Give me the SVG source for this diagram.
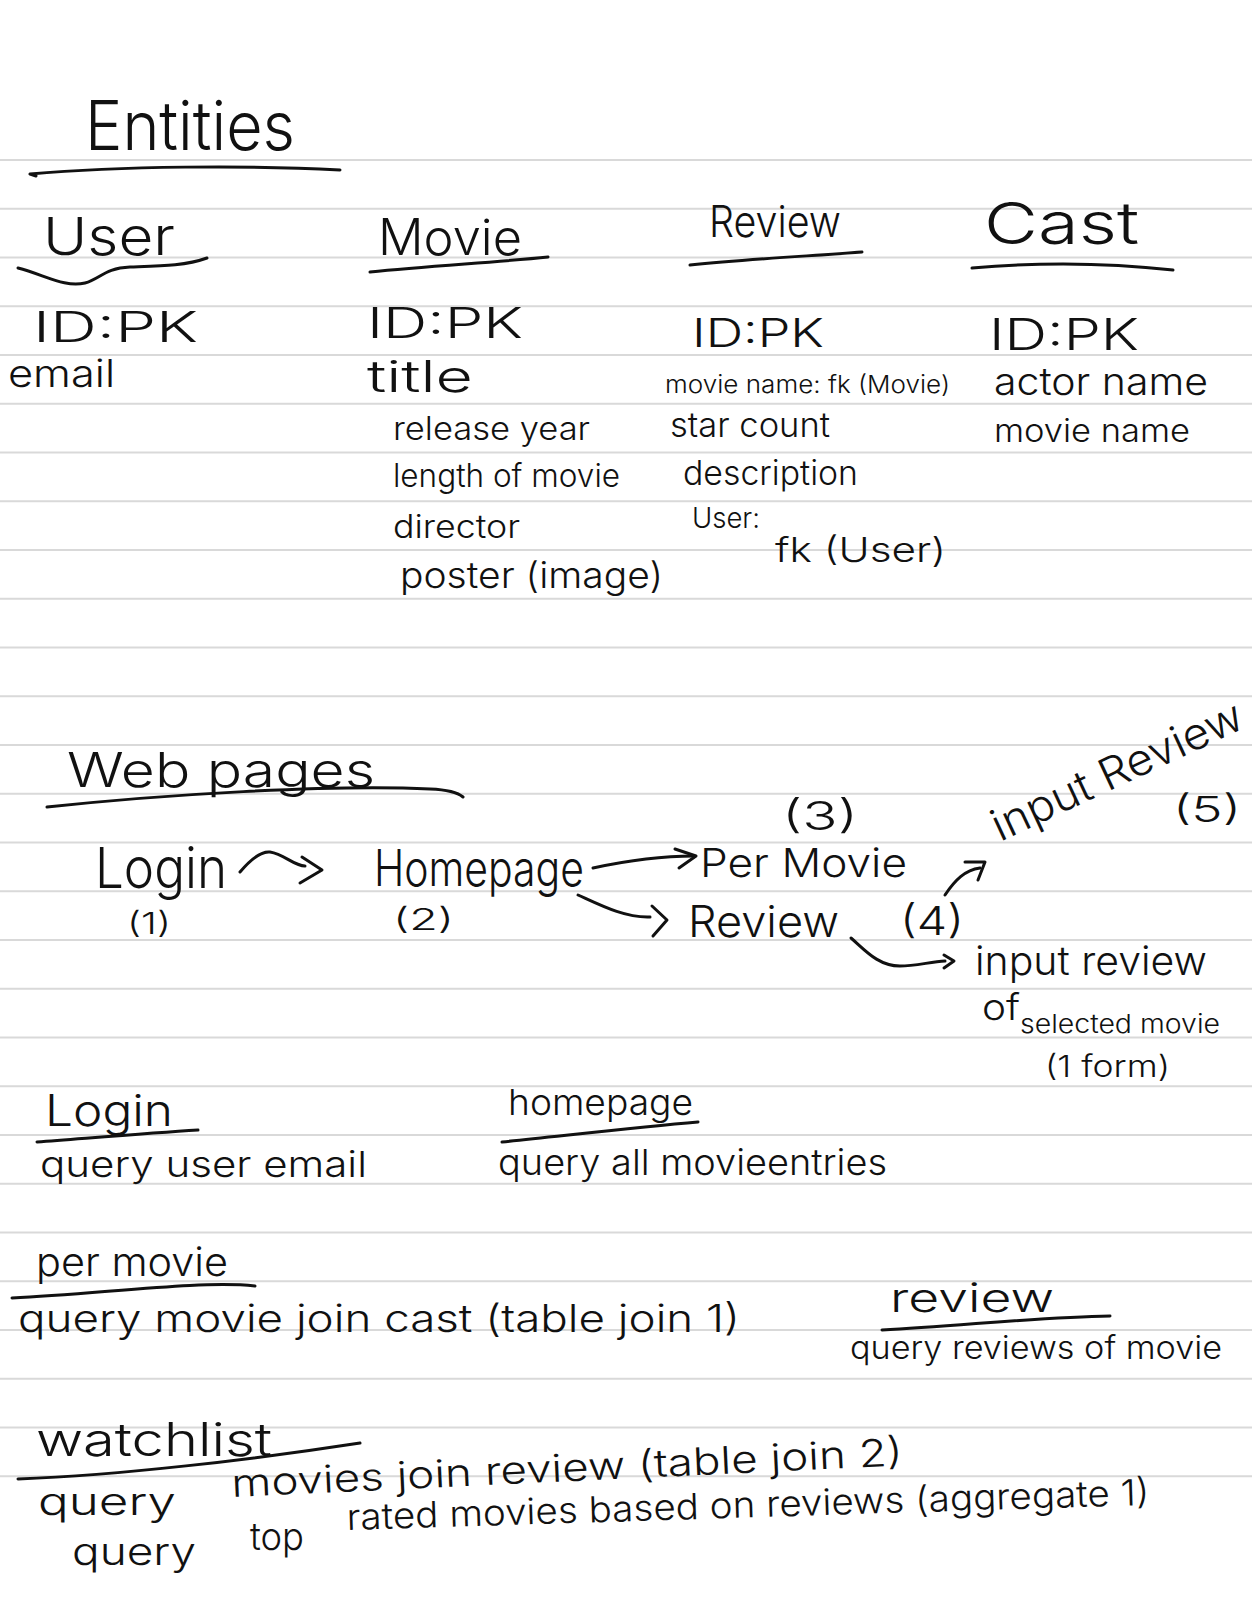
<svg xmlns="http://www.w3.org/2000/svg" width="1252" height="1616" viewBox="0 0 1252 1616">
  <style>
    text { font-family: "Inter", "Open Sans", "Lato", "Liberation Sans", sans-serif; font-weight: 300; fill: #111; }
    .ink { fill: none; stroke: #111; stroke-width: 3; stroke-linecap: round; stroke-linejoin: round; }
    .rule { fill: none; stroke: #d9d9d9; stroke-width: 2; }
  </style>
  <rect width="1252" height="1616" fill="#ffffff"/>

  <!-- notebook ruling -->
  <g id="ruled-lines">
    <path class="rule" d="M0,160H1252 M0,208.75H1252 M0,257.5H1252 M0,306.25H1252 M0,355H1252 M0,403.75H1252 M0,452.5H1252 M0,501.25H1252 M0,550H1252 M0,598.75H1252 M0,647.5H1252 M0,696.25H1252 M0,745H1252 M0,793.75H1252 M0,842.5H1252 M0,891.25H1252 M0,940H1252 M0,988.75H1252 M0,1037.5H1252 M0,1086.25H1252 M0,1135H1252 M0,1183.75H1252 M0,1232.5H1252 M0,1281.25H1252 M0,1330H1252 M0,1378.75H1252 M0,1427.5H1252 M0,1476.25H1252"/>
  </g>

  <!-- section: entities -->
  <g id="entities-heading">
    <text x="85" y="150" font-size="68" textLength="210" lengthAdjust="spacingAndGlyphs">Entities</text>
    <path class="ink" d="M36,176 L30,174 C120,166 250,165 340,170"/>
  </g>

  <g id="entity-user">
    <text x="43" y="255" font-size="52" textLength="132" lengthAdjust="spacingAndGlyphs">User</text>
    <path class="ink" d="M18,268 C45,275 65,288 85,283 C100,279 105,268 130,267 C160,266 185,266 207,258"/>
    <text x="33" y="342" font-size="42" textLength="165" lengthAdjust="spacingAndGlyphs">ID:PK</text>
    <text x="8" y="387" font-size="38" textLength="107" lengthAdjust="spacingAndGlyphs">email</text>
  </g>

  <g id="entity-movie">
    <text x="378" y="255" font-size="50" textLength="144" lengthAdjust="spacingAndGlyphs">Movie</text>
    <path class="ink" d="M370,272 C430,266 500,262 548,257"/>
    <text x="367" y="338" font-size="42" textLength="156" lengthAdjust="spacingAndGlyphs">ID:PK</text>
    <text x="367" y="392" font-size="44" textLength="106" lengthAdjust="spacingAndGlyphs">title</text>
    <text x="393" y="440" font-size="32" textLength="197" lengthAdjust="spacingAndGlyphs">release year</text>
    <text x="393" y="487" font-size="32" textLength="227" lengthAdjust="spacingAndGlyphs">length of movie</text>
    <text x="393" y="538" font-size="32" textLength="127" lengthAdjust="spacingAndGlyphs">director</text>
    <text x="400" y="588" font-size="36" textLength="263" lengthAdjust="spacingAndGlyphs">poster (image)</text>
  </g>

  <g id="entity-review">
    <text x="709" y="237" font-size="44" textLength="132" lengthAdjust="spacingAndGlyphs">Review</text>
    <path class="ink" d="M690,265 C750,259 810,256 862,252"/>
    <text x="692" y="347" font-size="40" textLength="132" lengthAdjust="spacingAndGlyphs">ID:PK</text>
    <text x="665" y="393" font-size="24" textLength="285" lengthAdjust="spacingAndGlyphs">movie name: fk (Movie)</text>
    <text x="670" y="437" font-size="34" textLength="160" lengthAdjust="spacingAndGlyphs">star count</text>
    <text x="683" y="485" font-size="34" textLength="175" lengthAdjust="spacingAndGlyphs">description</text>
    <text x="692" y="528" font-size="28" textLength="68" lengthAdjust="spacingAndGlyphs">User:</text>
    <text x="775" y="562" font-size="34" textLength="171" lengthAdjust="spacingAndGlyphs">fk (User)</text>
  </g>

  <g id="entity-cast">
    <text x="984" y="244" font-size="58" textLength="155" lengthAdjust="spacingAndGlyphs">Cast</text>
    <path class="ink" d="M972,268 C1040,262 1110,263 1173,270"/>
    <text x="989" y="350" font-size="44" textLength="150" lengthAdjust="spacingAndGlyphs">ID:PK</text>
    <text x="994" y="395" font-size="38" textLength="214" lengthAdjust="spacingAndGlyphs">actor name</text>
    <text x="994" y="442" font-size="32" textLength="196" lengthAdjust="spacingAndGlyphs">movie name</text>
  </g>

  <!-- section: web pages -->
  <g id="web-pages-heading">
    <text x="67" y="787" font-size="48" textLength="308" lengthAdjust="spacingAndGlyphs">Web pages</text>
    <path class="ink" d="M47,807 C160,795 330,784 430,789 Q455,790 463,797"/>
  </g>

  <g id="page-login">
    <text x="95" y="888" font-size="56" textLength="132" lengthAdjust="spacingAndGlyphs">Login</text>
    <text x="127" y="934" font-size="30" textLength="44" lengthAdjust="spacingAndGlyphs">(1)</text>
  </g>

  <g id="page-homepage">
    <text x="374" y="886" font-size="50" textLength="210" lengthAdjust="spacingAndGlyphs">Homepage</text>
    <text x="393" y="930" font-size="30" textLength="61" lengthAdjust="spacingAndGlyphs">(2)</text>
  </g>

  <g id="page-per-movie">
    <text x="782" y="830" font-size="40" textLength="76" lengthAdjust="spacingAndGlyphs">(3)</text>
    <text x="700" y="877" font-size="40" textLength="207" lengthAdjust="spacingAndGlyphs">Per Movie</text>
  </g>

  <g id="page-review">
    <text x="688" y="937" font-size="44" textLength="151" lengthAdjust="spacingAndGlyphs">Review</text>
    <text x="900" y="935" font-size="40" textLength="64" lengthAdjust="spacingAndGlyphs">(4)</text>
  </g>

  <g id="page-input-review">
    <text x="1000" y="842" font-size="44" textLength="272" lengthAdjust="spacingAndGlyphs" transform="rotate(-25 1000 842)">input Review</text>
    <text x="1173" y="822" font-size="36" textLength="68" lengthAdjust="spacingAndGlyphs">(5)</text>
  </g>

  <g id="page-input-review-form">
    <text x="975" y="975" font-size="40" textLength="232" lengthAdjust="spacingAndGlyphs">input review</text>
    <text x="982" y="1020" font-size="36" textLength="38" lengthAdjust="spacingAndGlyphs">of</text>
    <text x="1020" y="1033" font-size="26" textLength="200" lengthAdjust="spacingAndGlyphs">selected movie</text>
    <text x="1045" y="1077" font-size="30" textLength="125" lengthAdjust="spacingAndGlyphs">(1 form)</text>
  </g>

  <!-- page flow arrows -->
  <g id="connectors">
    <path class="ink" d="M240,872 C252,858 262,851 270,852 C284,854 294,866 305,866"/>
    <path class="ink" d="M302,857 L322,870 L300,883"/>
    <path class="ink" d="M593,868 C630,860 665,856 694,856"/>
    <path class="ink" d="M675,849 L696,856 L679,868"/>
    <path class="ink" d="M578,895 C600,905 625,918 650,917"/>
    <path class="ink" d="M652,906 L667,920 L653,936"/>
    <path class="ink" d="M945,895 C955,880 965,870 980,868"/>
    <path class="ink" d="M965,862 L985,862 L978,880"/>
    <path class="ink" d="M851,938 C865,950 878,966 900,966 C915,966 930,962 945,961"/>
    <path class="ink" d="M944,955 L954,961 L944,968"/>
  </g>

  <!-- section: queries per page -->
  <g id="query-login">
    <text x="45" y="1126" font-size="44" textLength="128" lengthAdjust="spacingAndGlyphs">Login</text>
    <path class="ink" d="M37,1142 C90,1138 150,1133 198,1130"/>
    <text x="40" y="1177" font-size="36" textLength="327" lengthAdjust="spacingAndGlyphs">query user email</text>
  </g>

  <g id="query-homepage">
    <text x="508" y="1115" font-size="36" textLength="185" lengthAdjust="spacingAndGlyphs">homepage</text>
    <path class="ink" d="M502,1142 C570,1135 640,1127 698,1122"/>
    <text x="498" y="1175" font-size="36" textLength="389" lengthAdjust="spacingAndGlyphs">query all movieentries</text>
  </g>

  <g id="query-per-movie">
    <text x="36" y="1276" font-size="40" textLength="192" lengthAdjust="spacingAndGlyphs">per movie</text>
    <path class="ink" d="M12,1298 C100,1294 200,1280 255,1286"/>
    <text x="18" y="1332" font-size="38" textLength="722" lengthAdjust="spacingAndGlyphs">query  movie join cast (table join 1)</text>
  </g>

  <g id="query-review">
    <text x="890" y="1312" font-size="40" textLength="164" lengthAdjust="spacingAndGlyphs">review</text>
    <path class="ink" d="M882,1330 C960,1326 1040,1317 1110,1316"/>
    <text x="850" y="1359" font-size="32" textLength="372" lengthAdjust="spacingAndGlyphs">query reviews of movie</text>
  </g>

  <g id="query-watchlist">
    <text x="36" y="1456" font-size="46" textLength="236" lengthAdjust="spacingAndGlyphs">watchlist</text>
    <path class="ink" d="M18,1479 C120,1475 250,1460 360,1443"/>
    <text x="38" y="1515" font-size="38" textLength="138" lengthAdjust="spacingAndGlyphs">query</text>
    <text x="232" y="1497" font-size="38" textLength="672" lengthAdjust="spacingAndGlyphs" transform="rotate(-2.7 232 1497)">movies join review (table join 2)</text>
    <text x="72" y="1565" font-size="38" textLength="124" lengthAdjust="spacingAndGlyphs">query</text>
    <text x="250" y="1550" font-size="38" textLength="54" lengthAdjust="spacingAndGlyphs">top</text>
    <text x="347" y="1530" font-size="36" textLength="803" lengthAdjust="spacingAndGlyphs" transform="rotate(-1.8 347 1530)">rated movies based on reviews (aggregate 1)</text>
  </g>
</svg>
